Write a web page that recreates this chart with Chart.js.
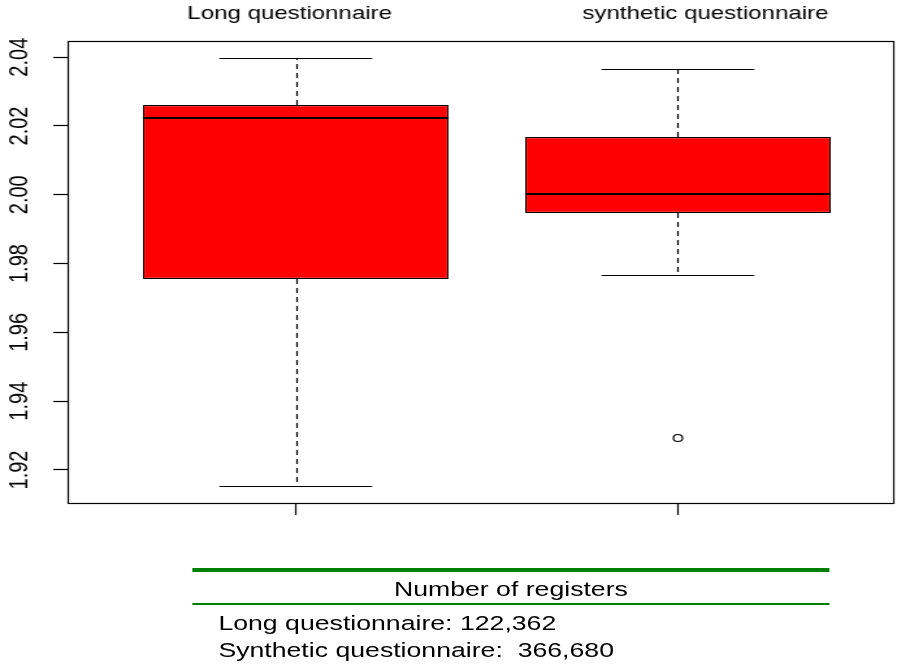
<!DOCTYPE html>
<html>
<head>
<meta charset="utf-8">
<script src="https://cdn.jsdelivr.net/npm/chart.js@4.4.1/dist/chart.umd.min.js"></script>
<style>
  html, body { margin: 0; padding: 0; background: #fff; }
  /* the reference picture is stretched sideways, so the page is drawn narrow and widened */
  #page {
    position: absolute; left: 0; top: 0; width: 698px; height: 666px;
    transform: scaleX(1.3); transform-origin: 0 0;
    font-family: "Liberation Sans", Arial, sans-serif; color: #000;
  }
  #chartBox { position: absolute; left: 0; top: 0; width: 698px; height: 522px; }
  .rule { position: absolute; left: 148px; width: 490px; background: #008000; }
  .note { position: absolute; font-size: 20.5px; line-height: 26px; white-space: pre; }
</style>
</head>
<body>
<div id="page">
  <div id="chartBox"><canvas id="boxChart"></canvas></div>
  <div class="rule" style="top:568px;height:4px;"></div>
  <div class="note" style="top:576px;left:148px;width:490px;text-align:center;">Number of registers</div>
  <div class="rule" style="top:603px;height:2px;"></div>
  <div class="note" style="top:610px;left:168px;">Long questionnaire: 122,362</div>
  <div class="note" style="top:637px;left:168px;">Synthetic questionnaire:  366,680</div>
</div>
<script>
const groupNames = ['Long questionnaire', 'synthetic questionnaire'];
const groupPos = [1, 2];
const whiskerLow = [1.9154, 1.9767];
const quartile1 = [1.9755, 1.9947];
const medians = [2.0223, 2.0002];
const quartile3 = [2.0261, 2.0168];
const whiskerHigh = [2.0397, 2.0365];
const outlierPos = [2];
const outlierValues = [1.9293];
const yTickValues = [1.92, 1.94, 1.96, 1.98, 2.00, 2.02, 2.04];
const yTickLabels = ['1.92', '1.94', '1.96', '1.98', '2.00', '2.02', '2.04'];

// whiskers + staples go under the boxes, medians, frame and texts on top
const boxParts = {
  id: 'boxParts',
  beforeDatasetsDraw(chart) {
    const ctx = chart.ctx;
    const xs = chart.scales.x, ys = chart.scales.y;
    ctx.save();
    ctx.strokeStyle = '#000';
    ctx.lineWidth = 1.2;
    groupPos.forEach((g, i) => {
      const cx = Math.round(xs.getPixelForValue(g)) + 0.5;
      const capL = xs.getPixelForValue(g - 0.2), capR = xs.getPixelForValue(g + 0.2);
      ctx.setLineDash([5, 4]);
      ctx.beginPath();
      ctx.moveTo(cx, ys.getPixelForValue(quartile3[i]));
      ctx.lineTo(cx, ys.getPixelForValue(whiskerHigh[i]));
      ctx.moveTo(cx, ys.getPixelForValue(quartile1[i]));
      ctx.lineTo(cx, ys.getPixelForValue(whiskerLow[i]));
      ctx.stroke();
      ctx.setLineDash([]);
      ctx.beginPath();
      [whiskerHigh[i], whiskerLow[i]].forEach(v => {
        const y = Math.round(ys.getPixelForValue(v)) + 0.5;
        ctx.moveTo(capL, y);
        ctx.lineTo(capR, y);
      });
      ctx.stroke();
    });
    ctx.restore();
  },
  afterDatasetsDraw(chart) {
    const ctx = chart.ctx;
    const xs = chart.scales.x, ys = chart.scales.y;
    const a = chart.chartArea;
    ctx.save();
    ctx.strokeStyle = '#000';
    ctx.lineWidth = 2;
    groupPos.forEach((g, i) => {
      const y = Math.round(ys.getPixelForValue(medians[i]));
      ctx.beginPath();
      ctx.moveTo(xs.getPixelForValue(g - 0.4), y);
      ctx.lineTo(xs.getPixelForValue(g + 0.4), y);
      ctx.stroke();
    });
    // frame
    ctx.lineWidth = 1.2;
    ctx.strokeRect(Math.round(a.left) + 0.5, Math.round(a.top) + 0.5, Math.round(a.right - a.left), Math.round(a.bottom - a.top));

    // y labels, written along the axis
    ctx.fillStyle = '#000';
    ctx.font = '20px "Liberation Sans", Arial, sans-serif';
    ctx.textAlign = 'center';
    ctx.textBaseline = 'middle';
    yTickValues.forEach((v, i) => {
      ctx.save();
      ctx.translate(ys.left - 26, ys.getPixelForValue(v));
      ctx.rotate(-Math.PI / 2);
      ctx.fillText(yTickLabels[i], 0, 0);
      ctx.restore();
    });

    // group names above the plot
    const namesAt = [0.984, 2.072];
    ctx.font = '18.5px "Liberation Sans", Arial, sans-serif';
    groupNames.forEach((n, i) => {
      ctx.fillText(n, xs.getPixelForValue(namesAt[i]), 14);
    });
    ctx.restore();
  }
};

const ctx = document.getElementById('boxChart').getContext('2d');
new Chart(ctx, {
  type: 'bar',
  data: {
    datasets: [
      {
        label: 'box',
        data: groupPos.map((g, i) => ({ x: g, y: [quartile1[i], quartile3[i]] })),
        backgroundColor: '#ff0000',
        borderColor: '#000',
        borderWidth: 1.2,
        borderSkipped: false,
        barPercentage: 0.8,
        categoryPercentage: 1
      },
      {
        type: 'scatter',
        label: 'outliers',
        data: outlierPos.map((g, i) => ({ x: g, y: outlierValues[i] })),
        pointStyle: 'circle',
        pointRadius: 3.5,
        backgroundColor: 'rgba(0,0,0,0)',
        borderColor: '#000',
        borderWidth: 1.2
      }
    ]
  },
  options: {
    responsive: true,
    maintainAspectRatio: false,
    animation: false,
    layout: { padding: { left: 41, top: 41, right: 11, bottom: 7 } },
    plugins: { legend: { display: false }, tooltip: { enabled: false } },
    scales: {
      x: {
        type: 'linear',
        min: 0.403,
        max: 2.563,
        offset: false,
        afterBuildTicks: s => { s.ticks = groupPos.map(v => ({ value: v })); },
        ticks: { display: false },
        border: { display: false },
        grid: { offset: false, drawOnChartArea: false, drawTicks: true, tickLength: 12, tickColor: '#000', tickWidth: 1.2 }
      },
      y: {
        type: 'linear',
        min: 1.9104,
        max: 2.0447,
        afterBuildTicks: s => { s.ticks = yTickValues.map(v => ({ value: v })); },
        ticks: { display: false },
        border: { display: false },
        grid: { drawOnChartArea: false, drawTicks: true, tickLength: 11, tickColor: '#000', tickWidth: 1.2 }
      }
    }
  },
  plugins: [boxParts]
});
</script>
</body>
</html>
